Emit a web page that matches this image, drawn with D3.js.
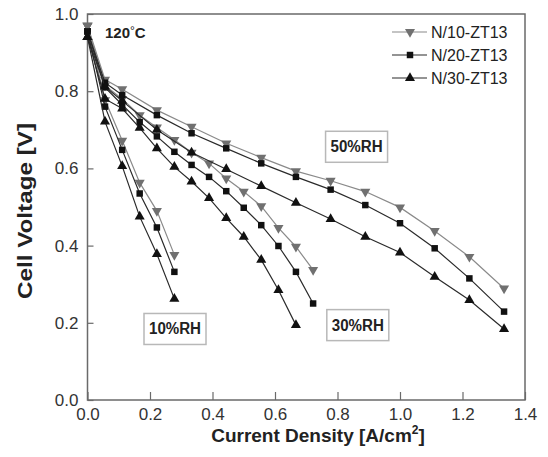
<!DOCTYPE html>
<html>
<head>
<meta charset="utf-8">
<script src="https://cdn.jsdelivr.net/npm/d3@7"></script>
<style>
  body { margin: 0; background: #fff; }
  svg { display: block; font-family: "Liberation Sans", Arial, sans-serif; }
</style>
</head>
<body>
<div id="chart"></div>
<script>
// current density steps (A/cm2) for each humidity level
var x10 = [0, 0.056, 0.111, 0.167, 0.222, 0.278];
var x30 = [0, 0.056, 0.111, 0.167, 0.222, 0.278, 0.333, 0.389, 0.444, 0.5, 0.556, 0.611, 0.667, 0.722];
var x30t = [0, 0.056, 0.111, 0.167, 0.222, 0.278, 0.333, 0.389, 0.444, 0.5, 0.556, 0.611, 0.667];
var x50 = [0, 0.056, 0.111, 0.222, 0.333, 0.444, 0.556, 0.667, 0.778, 0.889, 1.0, 1.111, 1.222, 1.333];

// cell voltage (V)
var rh10_n10 = [0.97, 0.777, 0.672, 0.563, 0.490, 0.376];
var rh10_n20 = [0.955, 0.76, 0.648, 0.535, 0.447, 0.332];
var rh10_n30 = [0.94, 0.721, 0.606, 0.475, 0.378, 0.262];

var rh30_n10 = [0.97, 0.815, 0.78, 0.738, 0.706, 0.674, 0.641, 0.613, 0.574, 0.540, 0.502, 0.446, 0.397, 0.337];
var rh30_n20 = [0.955, 0.81, 0.765, 0.72, 0.683, 0.643, 0.609, 0.578, 0.541, 0.498, 0.453, 0.399, 0.332, 0.250];
var rh30_n30 = [0.94, 0.78, 0.755, 0.705, 0.652, 0.604, 0.566, 0.523, 0.471, 0.423, 0.363, 0.285, 0.194];

var rh50_n10 = [0.97, 0.83, 0.805, 0.751, 0.708, 0.665, 0.628, 0.593, 0.568, 0.540, 0.499, 0.438, 0.371, 0.289];
var rh50_n20 = [0.955, 0.822, 0.79, 0.738, 0.691, 0.652, 0.613, 0.578, 0.545, 0.505, 0.458, 0.393, 0.315, 0.229];
var rh50_n30 = [0.94, 0.812, 0.775, 0.70, 0.641, 0.598, 0.554, 0.511, 0.469, 0.423, 0.382, 0.319, 0.259, 0.184];

var seriesNames = ["N/10-ZT13", "N/20-ZT13", "N/30-ZT13"];
var xTicks = [0, 0.2, 0.4, 0.6, 0.8, 1.0, 1.2, 1.4];
var yTicks = [0, 0.2, 0.4, 0.6, 0.8, 1.0];
var rhLabels = ["10%RH", "30%RH", "50%RH"];

var width = 548,
    height = 457,
    plotLeft = 87.5,
    plotRight = 525,
    plotTop = 14,
    plotBottom = 400;

var styles = [
    { line: "#8a8a8a", fill: "#707070", shape: d3.symbolTriangle, size: 44, rot: 180 },
    { line: "#2a2a2a", fill: "#111111", shape: d3.symbolSquare, size: 42, rot: 0 },
    { line: "#2a2a2a", fill: "#111111", shape: d3.symbolTriangle, size: 44, rot: 0 }
];

var curves = [
    { s: 0, x: x10, y: rh10_n10 }, { s: 1, x: x10, y: rh10_n20 }, { s: 2, x: x10, y: rh10_n30 },
    { s: 0, x: x30, y: rh30_n10 }, { s: 1, x: x30, y: rh30_n20 }, { s: 2, x: x30t, y: rh30_n30 },
    { s: 0, x: x50, y: rh50_n10 }, { s: 1, x: x50, y: rh50_n20 }, { s: 2, x: x50, y: rh50_n30 }
];

var svg = d3.select("#chart")
    .append("svg")
    .attr("width", width)
    .attr("height", height);

var x = d3.scaleLinear().domain([0, 1.4]).range([plotLeft, plotRight]);
var y = d3.scaleLinear().domain([0, 1.0]).range([plotBottom, plotTop]);

// frame
svg.append("rect")
    .attr("x", plotLeft)
    .attr("y", plotTop)
    .attr("width", plotRight - plotLeft)
    .attr("height", plotBottom - plotTop)
    .style("fill", "none")
    .style("stroke", "#6a6a6a")
    .style("stroke-width", "1.5px");

var xAxis = svg.append("g")
    .attr("transform", "translate(0," + plotBottom + ")")
    .call(d3.axisBottom(x).tickValues(xTicks).tickFormat(d3.format(".1f")).tickSizeInner(-8).tickSizeOuter(0).tickPadding(8));

var yAxis = svg.append("g")
    .attr("transform", "translate(" + plotLeft + ",0)")
    .call(d3.axisLeft(y).tickValues(yTicks).tickFormat(d3.format(".1f")).tickSizeInner(-6).tickSizeOuter(0).tickPadding(9));

[xAxis, yAxis].forEach(function (g) {
    g.select(".domain").remove();
    g.selectAll(".tick line").style("stroke", "#6a6a6a").style("stroke-width", "1.2px");
    g.selectAll(".tick text")
        .style("fill", "#333")
        .style("font-size", "17px")
        .style("font-family", "Liberation Sans, Arial, sans-serif");
});

var line = d3.line()
    .x(function (d) { return x(d[0]); })
    .y(function (d) { return y(d[1]); });

curves.forEach(function (c) {
    var st = styles[c.s];
    var pts = c.x.map(function (v, i) { return [v, c.y[i]]; });
    svg.append("path")
        .datum(pts)
        .attr("d", line)
        .style("fill", "none")
        .style("stroke", st.line)
        .style("stroke-width", "1.2px");
    svg.selectAll(null)
        .data(pts)
        .enter()
        .append("path")
        .attr("d", d3.symbol().type(st.shape).size(st.size))
        .attr("transform", function (d) {
            return "translate(" + x(d[0]) + "," + y(d[1]) + ") rotate(" + st.rot + ")";
        })
        .style("fill", st.fill);
});

// RH labels in boxes
var boxes = [
    { t: rhLabels[0], x: 0.28, y: 0.184 },
    { t: rhLabels[1], x: 0.865, y: 0.194 },
    { t: rhLabels[2], x: 0.861, y: 0.656 }
];
boxes.forEach(function (b) {
    var cx = x(b.x), cy = y(b.y);
    svg.append("rect")
        .attr("x", cx - 31)
        .attr("y", cy - 15.5)
        .attr("width", 62)
        .attr("height", 31)
        .style("fill", "#fff")
        .style("stroke", "#b8b8b8")
        .style("stroke-width", "1.5px");
    svg.append("text")
        .attr("x", cx)
        .attr("y", cy + 5.5)
        .attr("text-anchor", "middle")
        .attr("font-weight", "bold")
        .attr("textLength", 52)
        .attr("lengthAdjust", "spacingAndGlyphs")
        .style("font-size", "16px")
        .style("fill", "#222")
        .text(b.t);
});

// temperature
var temp = svg.append("text")
    .attr("x", 105)
    .attr("y", 38)
    .attr("font-weight", "bold")
    .style("font-size", "15px")
    .style("fill", "#222");
temp.append("tspan").text("120");
temp.append("tspan").attr("dy", -3).style("font-size", "12px").style("font-weight", "normal").text("°");
temp.append("tspan").attr("dy", 3).text("C");

// legend
seriesNames.forEach(function (name, i) {
    var st = styles[i];
    var ly = 32 + i * 23;
    svg.append("line")
        .attr("x1", 392)
        .attr("x2", 427)
        .attr("y1", ly)
        .attr("y2", ly)
        .style("stroke", st.line)
        .style("stroke-width", "1.2px");
    svg.append("path")
        .attr("d", d3.symbol().type(st.shape).size(st.size))
        .attr("transform", "translate(410," + ly + ") rotate(" + st.rot + ")")
        .style("fill", st.fill);
    svg.append("text")
        .attr("x", 431)
        .attr("y", ly + 6)
        .style("font-size", "16px")
        .style("fill", "#222")
        .text(name);
});

// axis titles
var xt = svg.append("text")
    .attr("x", 318)
    .attr("y", 442)
    .attr("text-anchor", "middle")
    .attr("font-weight", "bold")
    .style("font-size", "19px")
    .style("fill", "#222");
xt.append("tspan").text("Current Density [A/cm");
xt.append("tspan").attr("dy", -8).style("font-size", "12px").text("2");
xt.append("tspan").attr("dy", 8).text("]");

svg.append("text")
    .attr("transform", "translate(32,211) rotate(-90)")
    .attr("text-anchor", "middle")
    .attr("font-weight", "bold")
    .attr("textLength", 176)
    .attr("lengthAdjust", "spacingAndGlyphs")
    .style("font-size", "21px")
    .style("fill", "#222")
    .text("Cell Voltage [V]");
</script>
</body>
</html>
